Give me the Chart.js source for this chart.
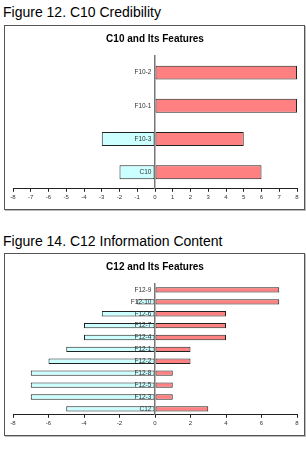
<!DOCTYPE html>
<html>
<head>
<meta charset="utf-8">
<script src="https://cdn.jsdelivr.net/npm/chart.js@4"></script>
<style>
  body { margin: 0; background: #fff; font-family: "Liberation Sans", Arial, sans-serif; }
  .cap { position: absolute; left: 3px; font-size: 14px; color: #000; white-space: nowrap; }
  .box { position: absolute; left: 4px; width: 301px; box-sizing: border-box; border: 1px solid #555; box-shadow: 1px 1px 0 #bbb; }
  .box canvas { display: block; }
</style>
</head>
<body>
<div class="cap" style="top:4px">Figure 12. C10 Credibility</div>
<div class="box" style="top:25px;height:185px"><canvas id="c10" width="299" height="183"></canvas></div>
<div class="cap" style="top:233px">Figure 14. C12 Information Content</div>
<div class="box" style="top:253px;height:183px"><canvas id="c12" width="299" height="181"></canvas></div>
<script>
// C10 Daten
const c10Labels = ['F10-2', 'F10-1', 'F10-3', 'C10'];
const c10Neg = [null, null, -3, -2];
const c10Pos = [8, 8, 5, 6];

// C12 Daten
const c12Labels = ['F12-9', 'F12-10', 'F12-6', 'F12-7', 'F12-4', 'F12-1', 'F12-2', 'F12-8', 'F12-5', 'F12-3', 'C12'];
const c12Neg = [null, -1, -3, -4, -4, -5, -6, -7, -7, -7, -5];
const c12Pos = [7, 7, 4, 4, 4, 2, 2, 1, 1, 1, 3];

// Achse
const xMin = -8;
const xMax = 8;

function makeChart(id, title, labels, neg, pos, step, barPct) {
    const ctx = document.getElementById(id).getContext('2d');
    return new Chart(ctx, {
        type: 'bar',
        data: {
            labels: labels,
            datasets: [{
                data: neg,
                backgroundColor: '#ccffff',
                borderColor: '#222',
                borderWidth: 1,
                borderSkipped: false,
                barPercentage: barPct,
                categoryPercentage: 1
            }, {
                data: pos,
                backgroundColor: '#ff8080',
                borderColor: '#222',
                borderWidth: 1,
                borderSkipped: false,
                barPercentage: barPct,
                categoryPercentage: 1
            }]
        },
        options: {
            indexAxis: 'y',
            responsive: false,
            animation: false,
            layout: { padding: { left: 8, right: 7, top: 0, bottom: 6 } },
            plugins: {
                legend: { display: false },
                tooltip: { enabled: false },
                title: {
                    display: true,
                    text: title,
                    color: '#000',
                    font: { family: 'Liberation Sans', size: 10, weight: 'bold' },
                    padding: { top: 7, bottom: 11 }
                }
            },
            scales: {
                x: {
                    min: xMin,
                    max: xMax,
                    ticks: {
                        stepSize: step,
                        color: '#333',
                        font: { family: 'Liberation Sans', size: 6 },
                        padding: 2,
                        maxRotation: 0
                    },
                    grid: { drawOnChartArea: false, drawTicks: true, tickLength: 3, color: '#222' },
                    border: { color: '#222', width: 1 }
                },
                y: {
                    stacked: true,
                    position: { x: 0 },
                    ticks: {
                        z: 1, // Beschriftung über den Balken
                        color: '#333',
                        font: { family: 'Liberation Sans', size: 6.5 },
                        // padding greift bei position {x: 0} nicht, daher Leerzeichen
                        callback: function (value) {
                            return this.getLabelForValue(value) + '  ';
                        }
                    },
                    grid: { display: false, drawTicks: false },
                    border: { color: '#777', width: 1.5, z: 1 }
                }
            }
        }
    });
}

makeChart('c10', 'C10 and Its Features', c10Labels, c10Neg, c10Pos, 1, 0.42);
makeChart('c12', 'C12 and Its Features', c12Labels, c12Neg, c12Pos, 2, 0.45);
</script>
</body>
</html>
